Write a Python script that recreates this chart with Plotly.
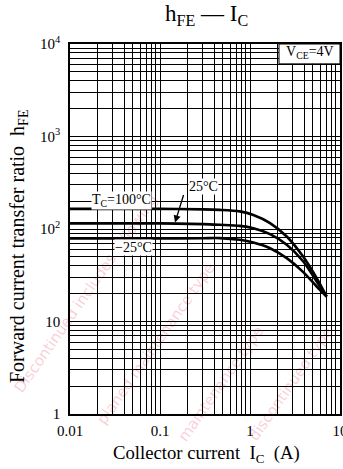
import math
import plotly.graph_objects as go

# Collector current (A) and DC current gain per case temperature
ic = [0.01, 0.1, 0.3, 0.46, 0.77, 1.09, 1.67, 2.56, 3.91, 5.51, 7.1]
hfe_100c = [165, 165, 163, 161, 155, 142, 116, 83, 50, 29.4, 18.6]
hfe_25c = [115, 115, 113, 111, 108, 102, 88, 67.5, 44.5, 27, 18.6]
hfe_m25c = [79, 79, 79.5, 79.7, 76.4, 71.4, 62, 48.4, 34.2, 23.9, 18.6]

x_tickvals = [0.01, 0.1, 1, 10]
x_ticktext = ["0.01", "0.1", "1", "10"]
y_tickvals = [1, 10, 100, 1000, 10000]
y_ticktext = ["1", "10", "10<sup>2</sup>", "10<sup>3</sup>", "10<sup>4</sup>"]

# Lifecycle notice printed diagonally behind the chart
notice_lines = [
    "Discontinued includes following",
    "planed maintenance type",
    "maintenance type",
    "discontinued type",
]
notice_centres = [(95, 300), (165, 350), (230, 390), (300, 390)]

SERIF = "Liberation Serif"
L, R, T, B = 70, 3, 44, 55
W, H = 343, 469
PW, PH = W - L - R, H - T - B


def px(x, y):
    """Pixel position -> paper coordinates."""
    return (x - L) / PW, (H - B - y) / PH


fig = go.Figure()
for ys in (hfe_100c, hfe_25c, hfe_m25c):
    fig.add_trace(go.Scatter(
        x=ic, y=ys, mode="lines",
        line=dict(color="black", width=2.6, shape="spline", smoothing=0.8),
        showlegend=False, hoverinfo="skip",
    ))

axis_common = dict(
    type="log",
    showline=True, linecolor="black", linewidth=1.5, mirror=True,
    showgrid=True, gridcolor="black", gridwidth=1,
    ticks="", zeroline=False,
    minor=dict(dtick="D1", showgrid=True, gridcolor="black", gridwidth=1, ticks=""),
    tickfont=dict(family=SERIF, size=15, color="black"),
    ticklabeloverflow="allow",
    automargin=False,
)

fig.update_layout(
    width=W, height=H,
    margin=dict(l=L, r=R, t=T, b=B, autoexpand=False),
    paper_bgcolor="white", plot_bgcolor="rgba(0,0,0,0)",
    xaxis=dict(axis_common, range=[-2, 1], tickvals=x_tickvals, ticktext=x_ticktext,
               ticklabelstandoff=2),
    yaxis=dict(axis_common, range=[0, 4], tickvals=y_tickvals, ticktext=y_ticktext,
               ticklabelstandoff=5),
)

# Diagonal notice text underneath the grid
ang = math.radians(55)
for (cx, cy), txt in zip(notice_centres, notice_lines):
    half = 120
    x0, y0 = px(cx - half * math.cos(ang), cy + half * math.sin(ang))
    x1, y1 = px(cx + half * math.cos(ang), cy - half * math.sin(ang))
    fig.add_shape(type="line", xref="paper", yref="paper", x0=x0, y0=y0, x1=x1, y1=y1,
                  line=dict(color="rgba(0,0,0,0)", width=0), layer="below",
                  label=dict(text=txt, textposition="middle",
                             font=dict(family="DejaVu Sans", size=15,
                                       color="rgba(235,60,90,0.25)")))

# Condition box in the upper-right corner
fig.add_shape(type="rect", xref="x", yref="y", x0=2.1, x1=10, y0=6100, y1=10000,
              fillcolor="white", line=dict(color="black", width=1), layer="above")

tx, ty = px(206, 15)
ax_x, ax_y = px(206, 454)
ay_x, ay_y = px(19, 247)
annos = [
    dict(text="h<sub>FE</sub> — I<sub>C</sub>", xref="paper", yref="paper",
         x=tx, y=ty, xanchor="center", yanchor="middle", showarrow=False,
         font=dict(family=SERIF, size=23, color="black")),
    dict(text="Collector current  I<sub>C</sub>  (A)", xref="paper", yref="paper",
         x=ax_x, y=ax_y, xanchor="center", yanchor="middle", showarrow=False,
         font=dict(family=SERIF, size=18.7, color="black")),
    dict(text="Forward current transfer ratio  h<sub>FE</sub>", xref="paper", yref="paper",
         x=ay_x, y=ay_y, xanchor="center", yanchor="middle", textangle=-90, showarrow=False,
         font=dict(family=SERIF, size=20, color="black")),
    dict(text="V<sub>CE</sub>=4V", xref="x", yref="y", x=0.667, y=3.907,
         showarrow=False, font=dict(family=SERIF, size=14, color="black")),
    dict(text="T<sub>C</sub>=100°C", xref="x", yref="y", x=-1.433, y=2.305,
         showarrow=False, bgcolor="white", borderpad=0,
         font=dict(family=SERIF, size=14, color="black")),
    dict(text="25°C", xref="x", yref="y", x=-0.522, y=2.457,
         showarrow=False, bgcolor="white", borderpad=0,
         font=dict(family=SERIF, size=14, color="black")),
    dict(text="−25°C", xref="x", yref="y", x=-1.3, y=1.797,
         showarrow=False, bgcolor="white", borderpad=0,
         font=dict(family=SERIF, size=14, color="black")),
    dict(text="", xref="x", yref="y", x=-0.833, y=2.07, ax=9, ay=-29,
         showarrow=True, arrowhead=2, arrowsize=1.1, arrowwidth=1.3, arrowcolor="black"),
]
fig.update_layout(annotations=annos)

fig.write_html("out.html")
